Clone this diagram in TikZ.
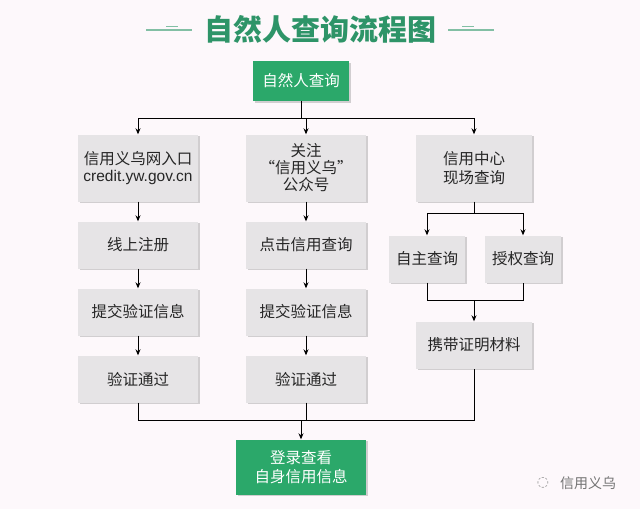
\documentclass[tikz,border=0pt]{standalone}
\usepackage{fontspec}
\setmainfont{Noto Sans CJK SC}
\usetikzlibrary{arrows.meta,shadows}
\definecolor{bg}{HTML}{FDF8FB}
\definecolor{gbox}{HTML}{2BA86A}
\definecolor{tgreen}{HTML}{2E9468}
\definecolor{grayb}{HTML}{E6E4E6}
\tikzset{
 gray box/.style={fill=grayb,draw=none,minimum width=120pt,minimum height=47pt,align=center,font=\fontsize{15.5}{19}\selectfont,text=black!85,drop shadow={shadow xshift=1.5pt,shadow yshift=-1.5pt,opacity=.35}},
 green box/.style={fill=gbox,draw=none,align=center,text=white,font=\fontsize{15.5}{20}\selectfont,drop shadow={shadow xshift=1.5pt,shadow yshift=-1.5pt,opacity=.35}},
 arr/.style={-{Stealth[length=6pt,width=5pt]},line width=0.8pt},
 ln/.style={line width=0.8pt},
}
\begin{document}
\begin{tikzpicture}[x=1pt,y=-1pt]
\fill[bg] (0,0) rectangle (640,509);
\useasboundingbox (0,0) rectangle (640,509);
\node[text=tgreen,font=\fontsize{29}{32}\selectfont\bfseries] (title) at (320,29) {自然人查询流程图};
\draw[tgreen!60,line width=1.5pt] (146,30)--(192,30) (448,30)--(494,30);
\draw[tgreen!60,line width=1pt] (166,26)--(178,26) (462,26)--(474,26);
\node[green box,minimum width=96pt,minimum height=40pt] (top) at (301,81) {自然人查询};
\node[gray box,minimum height=67pt] (a1) at (138,168) {信用义乌网入口\\[-2pt]{\fontspec{Liberation Sans}\fontsize{15.5}{19}\selectfont credit.yw.gov.cn}};
\node[gray box] (a2) at (138,245) {线上注册};
\node[gray box] (a3) at (138,312) {提交验证信息};
\node[gray box] (a4) at (138,379) {验证通过};
\node[gray box,minimum height=67pt,font=\fontsize{15.5}{17}\selectfont] (b1) at (306,168) {关注\\“信用义乌”\\公众号};
\node[gray box] (b2) at (306,245) {点击信用查询};
\node[gray box] (b3) at (306,312) {提交验证信息};
\node[gray box] (b4) at (306,379) {验证通过};
\node[gray box,minimum width=116pt,minimum height=67pt] (c1) at (474,168) {信用中心\\现场查询};
\node[gray box,minimum width=76pt] (c2) at (427,259) {自主查询};
\node[gray box,minimum width=76pt] (c3) at (523,259) {授权查询};
\node[gray box,minimum width=116pt] (c4) at (474,345) {携带证明材料};
\node[green box,minimum width=130pt,minimum height=55pt,font=\fontsize{15.5}{19}\selectfont] (bot) at (301,467) {登录查看\\自身信用信息};
\node[text=black!55,font=\fontsize{14}{16}\selectfont] (wm) at (588,483) {信用义乌};
\node[text=black!40,font=\fontsize{14}{16}\selectfont] (wmi) at (543,483) {\fontspec{DejaVu Sans}◌};
% connectors
\coordinate (t1) at (301,118);
\draw[ln] (top.south)--(t1);
\draw[ln] (a1.north|-t1)--(c1.north|-t1);
\draw[arr] (a1.north|-t1)--(a1.north);
\draw[arr] (b1.north|-t1)--(b1.north);
\draw[arr] (c1.north|-t1)--(c1.north);
\draw[arr] (a1)--(a2); \draw[arr] (a2)--(a3); \draw[arr] (a3)--(a4);
\draw[arr] (b1)--(b2); \draw[arr] (b2)--(b3); \draw[arr] (b3)--(b4);
\coordinate (s1) at (474,213);
\draw[ln] (c1.south)--(s1);
\draw[ln] (c2.north|-s1)--(c3.north|-s1);
\draw[arr] (c2.north|-s1)--(c2.north);
\draw[arr] (c3.north|-s1)--(c3.north);
\coordinate (s2) at (474,300);
\draw[ln] (c2.south)--(c2.south|-s2)--(c3.south|-s2)--(c3.south);
\draw[arr] (s2)--(c4.north);
\coordinate (s3) at (301,420);
\draw[ln] (a4.south)--(a4.south|-s3)--(c4.south|-s3)--(c4.south);
\draw[ln] (b4.south)--(b4.south|-s3);
\draw[arr] (s3)--(bot.north);
\end{tikzpicture}
\end{document}
